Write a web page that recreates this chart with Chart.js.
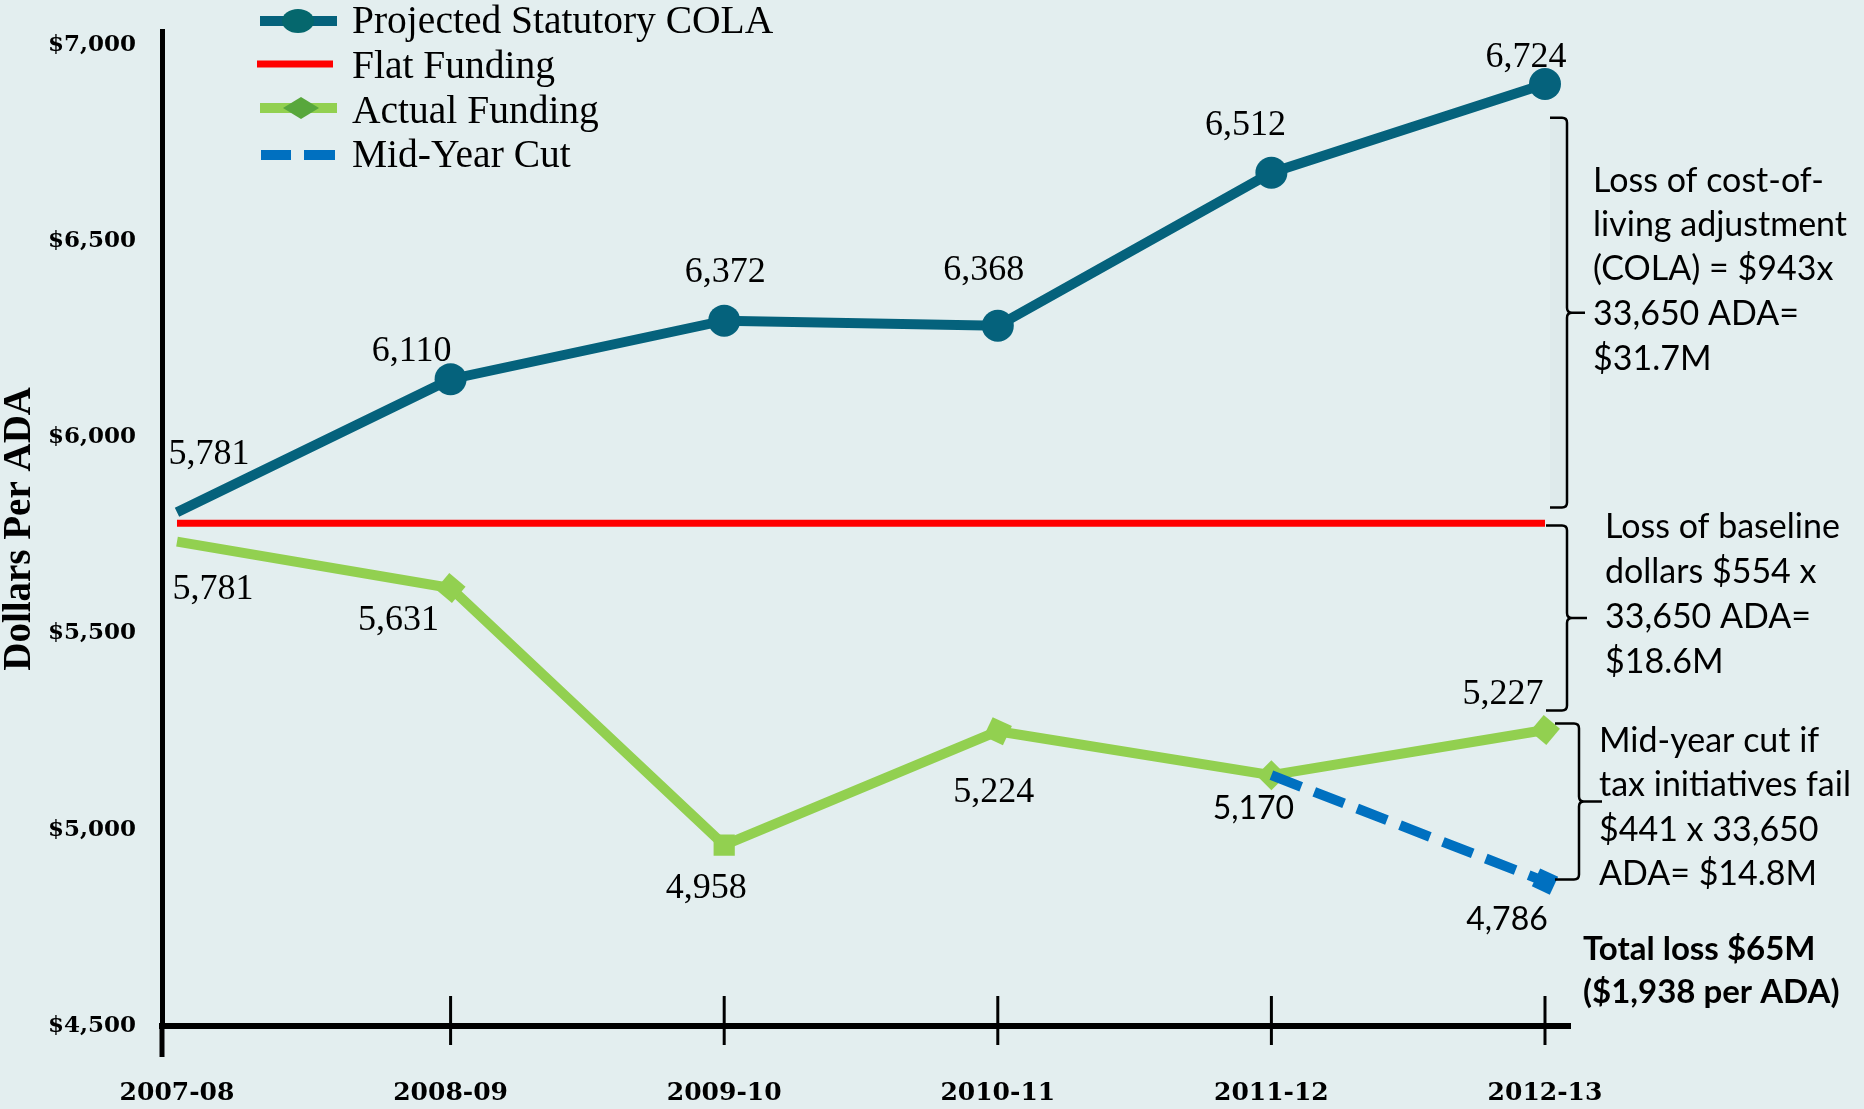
<!DOCTYPE html>
<html><head><meta charset="utf-8">
<script src="https://cdn.jsdelivr.net/npm/chart.js@4.4.1/dist/chart.umd.min.js"></script>
<style>html,body{margin:0;padding:0;background:#E3EEEF;}canvas{display:block;}</style>
</head><body>
<canvas id="c" width="1864" height="1109"></canvas>
<script>
// ---------- data ----------
const categories = ['2007-08','2008-09','2009-10','2010-11','2011-12','2012-13'];
const yTickValues = [4500,5000,5500,6000,6500,7000];
const yTickLabels = ['$4,500','$5,000','$5,500','$6,000','$6,500','$7,000'];
const seriesNames = ['Projected Statutory COLA','Flat Funding','Actual Funding','Mid-Year Cut'];
// heights of the plotted marks
const colaValues   = [5809,6148,6297,6284,6674,6900];
const flatValues   = [5781,5781,5781,5781,5781,5781];
const actualValues = [5734,5616,4961,5251,5139,5254];
const cutValues    = [null,null,null,null,5139,4868];
// printed value labels
const colaLabels   = ['5,781','6,110','6,372','6,368','6,512','6,724'];
const actualLabels = ['5,781','5,631','4,958','5,224','5,170','5,227'];
const cutLabels    = [null,null,null,null,null,'4,786'];

// ---------- styles / layout ----------
const BG = '#E3EEEF';
const TEAL = '#05627C', RED = '#FF0000', GREEN = '#92D050', BLUE = '#0070C0';
const SERIF_LABEL = '36px "Liberation Serif"';
const SANS_LABEL = '32px Lato';
const labelLayout = [
  {ds:0, texts:colaLabels, offsets:[[32,-58],[-39,-28],[1,-48],[-14,-55],[-26,-47],[-19,-26]], sans:[]},
  {ds:2, texts:actualLabels, offsets:[[36,48],[-52,33],[-18,43],[-4,61],[-18,33],[-42,-36]], sans:[4]},
  {ds:3, texts:cutLabels, offsets:[null,null,null,null,null,[-38,38]], sans:[5]}
];
const notes = [
  {x:1593, ys:[192,236,280,325,370], lines:['Loss of cost-of-','living adjustment','(COLA) = $943x','33,650 ADA=','$31.7M'], bold:false, size:34},
  {x:1605, ys:[538,583,628,673], lines:['Loss of baseline','dollars $554 x','33,650 ADA=','$18.6M'], bold:false, size:34},
  {x:1599, ys:[752,796,841,885], lines:['Mid-year cut if','tax initiatives fail','$441 x 33,650','ADA= $14.8M'], bold:false, size:34},
  {x:1583, ys:[960,1003], lines:['Total loss $65M','($1,938 per ADA)'], bold:true, size:33}
];
const brackets = [
  {x:1567, top:6814, bottom:5821, hook:17, tip:18, band:true},
  {x:1567, top:5775, bottom:5304, hook:21, tip:20},
  {x:1579, top:5271, bottom:4873, hook:24, tip:23}
];

const deco = {
  id:'deco',
  beforeDraw(chart){
    const ctx = chart.ctx;
    ctx.save(); ctx.fillStyle = BG; ctx.fillRect(0,0,chart.width,chart.height); ctx.restore();
  },
  afterDraw(chart){
    const {ctx, chartArea:a, scales:{x,y}} = chart;
    ctx.save();
    // y axis extension below the x axis
    ctx.strokeStyle = '#000'; ctx.lineWidth = 5;
    ctx.beginPath(); ctx.moveTo(a.left, a.bottom); ctx.lineTo(a.left, a.bottom + 31); ctx.stroke();
    // crossing tick marks
    ctx.lineWidth = 3;
    x.ticks.forEach((t,i) => {
      if (i === 0) return;
      const px = x.getPixelForValue(t.value);
      ctx.beginPath(); ctx.moveTo(px, a.bottom - 30); ctx.lineTo(px, a.bottom + 19); ctx.stroke();
    });

    // data labels
    ctx.fillStyle = '#000'; ctx.textAlign = 'center'; ctx.textBaseline = 'middle';
    labelLayout.forEach(L => {
      const meta = chart.getDatasetMeta(L.ds);
      meta.data.forEach((pt, j) => {
        const idx = Math.round(chart.data.datasets[L.ds].data[j].x);
        const txt = L.texts[idx]; const off = L.offsets[idx];
        if (!txt || !off) return;
        ctx.font = L.sans.includes(idx) ? SANS_LABEL : SERIF_LABEL;
        ctx.fillText(txt, pt.x + off[0], pt.y + off[1]);
      });
    });

    // brackets
    ctx.strokeStyle = '#000'; ctx.lineWidth = 2.5; ctx.lineJoin = 'round';
    brackets.forEach(b => {
      const t = y.getPixelForValue(b.top), bt = y.getPixelForValue(b.bottom), m = (t + bt) / 2;
      if (b.band) { ctx.fillStyle = 'rgba(0,60,70,0.02)'; ctx.fillRect(b.x - b.hook, t, b.hook, bt - t); }
      const r = 5;
      ctx.beginPath();
      ctx.moveTo(b.x - b.hook, t);
      ctx.lineTo(b.x - r, t); ctx.quadraticCurveTo(b.x, t, b.x, t + r);
      ctx.lineTo(b.x, m - r); ctx.quadraticCurveTo(b.x, m, b.x + r, m);
      ctx.lineTo(b.x + b.tip, m);
      ctx.moveTo(b.x + r, m); ctx.quadraticCurveTo(b.x, m, b.x, m + r);
      ctx.lineTo(b.x, bt - r); ctx.quadraticCurveTo(b.x, bt, b.x - r, bt);
      ctx.lineTo(b.x - b.hook, bt);
      ctx.stroke();
    });

    // notes
    ctx.fillStyle = '#000'; ctx.textAlign = 'left'; ctx.textBaseline = 'alphabetic';
    notes.forEach(n => {
      ctx.font = (n.bold ? 'bold ' : '') + n.size + 'px Lato';
      n.lines.forEach((ln, k) => ctx.fillText(ln, n.x, n.ys[k]));
    });

    // legend
    const ds = chart.data.datasets;
    const rows = [21, 64, 108, 155], base = [33, 78, 123, 167];
    const sx0 = 260, sx1 = 337;
    ctx.strokeStyle = ds[0].borderColor; ctx.lineWidth = 10;
    ctx.beginPath(); ctx.moveTo(sx0, rows[0]); ctx.lineTo(sx1, rows[0]); ctx.stroke();
    ctx.fillStyle = '#05676D'; ctx.beginPath(); ctx.ellipse(298, rows[0], 16, 12, 0, 0, Math.PI*2); ctx.fill();
    ctx.strokeStyle = ds[1].borderColor; ctx.lineWidth = 7;
    ctx.beginPath(); ctx.moveTo(257, rows[1]); ctx.lineTo(333, rows[1]); ctx.stroke();
    ctx.strokeStyle = ds[2].borderColor; ctx.lineWidth = 10;
    ctx.beginPath(); ctx.moveTo(sx0, rows[2]); ctx.lineTo(sx1, rows[2]); ctx.stroke();
    ctx.fillStyle = '#58A73C'; ctx.beginPath();
    ctx.moveTo(301, rows[2]-11); ctx.lineTo(319, rows[2]); ctx.lineTo(301, rows[2]+11); ctx.lineTo(283, rows[2]); ctx.closePath(); ctx.fill();
    ctx.strokeStyle = ds[3].borderColor; ctx.lineWidth = 10;
    ctx.beginPath(); ctx.moveTo(261, rows[3]); ctx.lineTo(291, rows[3]); ctx.moveTo(304, rows[3]); ctx.lineTo(335, rows[3]); ctx.stroke();
    ctx.fillStyle = '#000'; ctx.font = '39.5px "Liberation Serif"';
    seriesNames.forEach((s, k) => ctx.fillText(s, 352, base[k]));
    ctx.restore();
  }
};

const toPts = arr => arr.map((v,i) => ({x:i, y:v})).filter(p => p.y !== null);

new Chart(document.getElementById('c'), {
  type: 'line',
  data: { datasets: [
    {label:seriesNames[0], data:toPts(colaValues), borderColor:TEAL, backgroundColor:TEAL, borderWidth:10,
     pointStyle:'circle', pointRadius:[0,16,16,16,16,16], pointBorderWidth:0, pointBackgroundColor:TEAL, order:1},
    {label:seriesNames[1], data:toPts(flatValues), borderColor:RED, backgroundColor:RED, borderWidth:7, pointRadius:0, order:3},
    {label:seriesNames[2], data:toPts(actualValues), borderColor:GREEN, backgroundColor:GREEN, borderWidth:10,
     pointStyle:'rect', pointRadius:[0,15,15,15,15,15], pointRotation:[0,40,0,25,45,40], pointBorderWidth:0, pointBackgroundColor:GREEN, order:2},
    {label:seriesNames[3], data:toPts(cutValues), borderColor:BLUE, backgroundColor:BLUE, borderWidth:10, borderDash:[32,14],
     pointStyle:'rect', pointRadius:[0,14], pointRotation:25, pointBorderWidth:0, pointBackgroundColor:BLUE, order:0}
  ]},
  options: {
    responsive:false, animation:false, devicePixelRatio:1,
    layout:{padding:{top:21, right:294, bottom:0, left:0}},
    elements:{line:{tension:0, fill:false}},
    plugins:{legend:{display:false}, tooltip:{enabled:false}},
    scales:{
      x:{type:'linear', min:-0.0548, max:5.0914, offset:false,
         afterBuildTicks: s => { s.ticks = categories.map((c,i) => ({value:i})); },
         afterFit: s => { s.height = 83; },
         grid:{display:false}, border:{display:true, color:'#000', width:6},
         ticks:{callback: v => categories[v], color:'#000', padding:44, maxRotation:0, autoSkip:false,
                font:{family:'DejaVu Serif', size:25, weight:'bold'}}},
      y:{min:4500, max:7033,
         afterBuildTicks: s => { s.ticks = yTickValues.map(v => ({value:v})); },
         afterFit: s => { s.width = 162; },
         grid:{display:false}, border:{display:true, color:'#000', width:5},
         ticks:{callback: (v,i) => yTickLabels[i], color:'#000', padding:18,
                font:{family:'DejaVu Serif', size:23, weight:'bold'}},
         title:{display:true, text:'Dollars Per ADA', color:'#000', padding:0,
                font:{family:'Liberation Serif', size:39, weight:'bold', lineHeight:1}}}
    }
  },
  plugins:[deco]
});
</script>
</body></html>
